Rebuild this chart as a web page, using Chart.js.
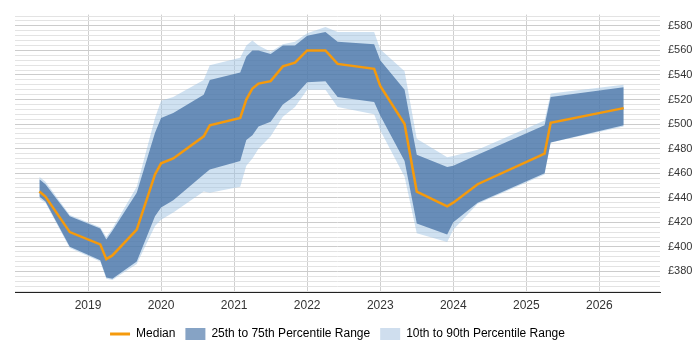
<!DOCTYPE html>
<html>
<head>
<meta charset="utf-8">
<script src="https://cdn.jsdelivr.net/npm/chart.js@4/dist/chart.umd.min.js"></script>
<style>
  html, body { margin: 0; padding: 0; background: #fff; }
  #wrap { width: 700px; height: 350px; }
</style>
</head>
<body>
<div id="wrap"><canvas id="rateChart"></canvas></div>
<script>
// sample months (YYYY-MM)
const dates = ["2018-05", "2018-06", "2018-10", "2019-03", "2019-04", "2019-05", "2019-09", "2019-12",
  "2020-01", "2020-03", "2020-08", "2020-09", "2021-02", "2021-03", "2021-04", "2021-05",
  "2021-07", "2021-09", "2021-11", "2022-01", "2022-04", "2022-06", "2022-12", "2023-01",
  "2023-05", "2023-07", "2023-12", "2024-01", "2024-05", "2025-04", "2025-05", "2026-05"];

const median = [445, 441, 412, 402, 390, 393, 414, 459, 468, 472, 490, 499, 505, 520, 529, 533,
  535, 547, 550, 560, 560, 549, 545, 531, 500, 445, 433, 436, 451, 476, 501, 513];
const p75 = [455, 451, 425, 415, 406, 413, 444, 493, 505, 509, 524, 536, 542, 555, 560, 560,
  557, 564, 564, 572, 575, 567, 565, 552, 528, 475, 465, 466, 475, 499, 522, 530];
const p25 = [441, 437, 400, 389, 375, 374, 388, 425, 432, 438, 459, 463, 470, 487, 491, 498,
  502, 516, 523, 534, 535, 522, 518, 507, 470, 419, 410, 420, 436, 460, 485, 499];
const p90 = [457, 453, 426, 416, 408, 415, 449, 505, 519, 522, 536, 548, 554, 564, 568, 564,
  559, 565, 567, 574, 579, 575, 575, 561, 543, 488, 473, 474, 479, 503, 525, 532];
const p10 = [439, 436, 399, 388, 374, 373, 386, 417, 422, 428, 445, 444, 449, 466, 472, 480,
  490, 506, 514, 528, 528, 514, 508, 495, 457, 411, 404, 414, 435, 459, 485, 498];

const yearTicks = [2019, 2020, 2021, 2022, 2023, 2024, 2025, 2026];
const priceTicks = [380, 400, 420, 440, 460, 480, 500, 520, 540, 560, 580];

const ORANGE = "#f59a0c";
const DARK = "rgba(60, 105, 160, 0.7)";
const LIGHT = "rgba(160, 195, 228, 0.5)";
const FONT = "'Liberation Sans', Arial, sans-serif";

const toYear = (d) => {
  const [y, m] = d.split("-").map(Number);
  return y + (m - 1) / 12;
};
const xs = dates.map(toYear);
const pts = (arr) => arr.map((v, i) => ({ x: xs[i], y: v }));

const band = (label, data, fill, color) => ({
  label, data: pts(data), fill, backgroundColor: color, borderWidth: 0,
  pointRadius: 0, tension: 0
});

new Chart(document.getElementById("rateChart").getContext("2d"), {
  type: "line",
  data: {
    datasets: [
      { label: "Median", data: pts(median), borderColor: ORANGE, borderWidth: 2.5,
        pointRadius: 0, fill: false, tension: 0 },
      band("25th to 75th Percentile Range", p75, "+1", DARK),
      band("p25", p25, false, DARK),
      band("10th to 90th Percentile Range", p90, "+1", LIGHT),
      band("p10", p10, false, LIGHT)
    ]
  },
  options: {
    responsive: true,
    maintainAspectRatio: false,
    animation: false,
    events: [],
    layout: { padding: { left: 15, top: 5, right: 0, bottom: 0 } },
    plugins: {
      tooltip: { enabled: false },
      legend: {
        position: "bottom",
        fullSize: false,
        labels: {
          usePointStyle: true,
          pointStyleWidth: 20,
          boxHeight: 12,
          padding: 10,
          color: "#333",
          font: { family: FONT, size: 12 },
          generateLabels: () => [
            { text: "Median", pointStyle: "line", strokeStyle: ORANGE, fillStyle: ORANGE,
              lineWidth: 3, datasetIndex: 0, hidden: false },
            { text: "25th to 75th Percentile Range", pointStyle: "rect", fillStyle: "#86a3c5",
              strokeStyle: "#86a3c5", lineWidth: 0, datasetIndex: 1, hidden: false },
            { text: "10th to 90th Percentile Range", pointStyle: "rect", fillStyle: "#cfdeee",
              strokeStyle: "#cfdeee", lineWidth: 0, datasetIndex: 3, hidden: false }
          ]
        }
      }
    },
    scales: {
      x: {
        type: "linear",
        min: 2018.0,
        max: 2026.83,
        afterBuildTicks: (scale) => { scale.ticks = yearTicks.map((v) => ({ value: v })); },
        afterFit: (scale) => { scale.height = 26; },
        grid: { color: "#cfcfcf", drawTicks: false },
        border: { display: true, color: "#222", width: 1 },
        ticks: {
          padding: 6,
          color: "#333",
          font: { family: FONT, size: 12 },
          callback: (v) => String(v)
        }
      },
      y: {
        position: "right",
        min: 363.2,
        max: 589.2,
        afterBuildTicks: (scale) => {
          const t = [];
          for (let v = 364; v <= 588; v += 4) t.push({ value: v });
          scale.ticks = t;
        },
        afterFit: (scale) => { scale.width = 40; },
        grid: {
          drawTicks: false,
          color: (ctx) => (ctx.tick && priceTicks.includes(ctx.tick.value) ? "#cccccc" : "#e3e3e3")
        },
        border: { display: false },
        ticks: {
          autoSkip: false,
          padding: 8,
          color: "#333",
          font: { family: FONT, size: 11 },
          callback: (v) => (priceTicks.includes(v) ? "£" + v : "")
        }
      }
    }
  }
});
</script>
</body>
</html>
